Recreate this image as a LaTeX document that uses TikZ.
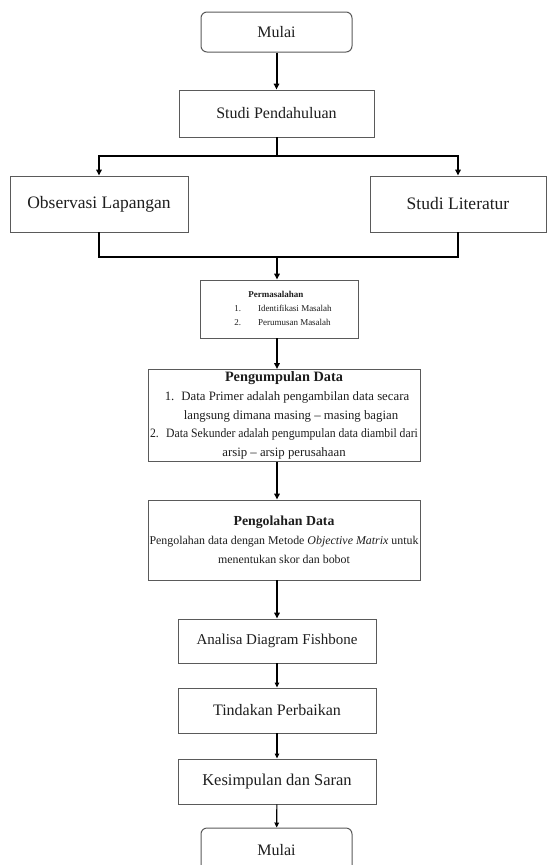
\documentclass[tikz,border=0pt]{standalone}
\usepackage{fontspec}
\setmainfont{Liberation Serif}
\usetikzlibrary{arrows.meta}
\definecolor{edge}{HTML}{5A5A5A}
\definecolor{ink}{HTML}{1E1E1E}
\begin{document}
\begin{tikzpicture}[x=1pt,y=-1pt,
  box/.style={draw=edge, line width=0.9pt, rectangle, inner sep=0pt, text=ink, font=\fontsize{16}{19}\selectfont},
  term/.style={box, rounded corners=6pt, line width=1pt},
  arr/.style={draw=black, line width=2pt, -{Triangle[length=6pt,width=5.5pt]}},
  arrthin/.style={draw=black, line width=1.1pt, -{Triangle[length=5pt,width=4.5pt]}},
  ln/.style={draw=black, line width=2pt}]
\useasboundingbox (0,0) rectangle (556,865);
\fill[white] (0,0) rectangle (556,865);

\node[term, minimum width=151pt, minimum height=40pt] (start) at (276.5,32) {Mulai};
\node[box, minimum width=195pt, minimum height=47pt] (studi) at (276.5,113.5) {Studi Pendahuluan};
\node[box, minimum width=178pt, minimum height=56pt, font=\fontsize{17.5}{20}\selectfont] (obs) at (99,204) {Observasi Lapangan};
\node[box, minimum width=176pt, minimum height=56pt, font=\fontsize{17.5}{20}\selectfont] (lit) at (458,204) {Studi Literatur};
\node[box, minimum width=158pt, minimum height=58pt, font=\fontsize{9}{14}\selectfont] (perm) at (279,309)
  {\hspace*{8pt}\begin{tabular}{@{}l@{\hspace{17pt}}l@{}}\multicolumn{2}{l}{\hspace{8pt}\textbf{Permasalahan}}\\ 1. & Identifikasi\ Masalah\\ 2. & Perumusan Masalah\end{tabular}};
\node[box, minimum width=272pt, minimum height=92pt, align=center, font=\fontsize{12.8}{18.6}\selectfont] (peng) at (284,415.5)
  {{\fontsize{14.3}{18.6}\selectfont\textbf{Pengumpulan\ Data}}\\ \hspace*{6pt}1.\hspace{7pt}Data Primer adalah pengambilan data secara\\ \hspace*{14pt}langsung dimana masing -- masing bagian\\ \scalebox{0.915}[1]{2.\hspace{8pt}Data Sekunder adalah pengumpulan data diambil dari}\\ arsip -- arsip perusahaan};
\node[box, minimum width=272pt, minimum height=80pt, align=center, font=\fontsize{11.9}{19}\selectfont] (olah) at (284,540)
  {{\fontsize{13.8}{19}\selectfont\textbf{Pengolahan Data}}\\ Pengolahan data dengan Metode \textit{Objective Matrix} untuk\\ menentukan skor dan bobot};
\node[box, minimum width=198pt, minimum height=44pt, font=\fontsize{15}{18}\selectfont] (ana) at (277,641) {Analisa Diagram Fishbone};
\node[box, minimum width=198pt, minimum height=45pt] (tind) at (277,710.5) {Tindakan Perbaikan};
\node[box, minimum width=198pt, minimum height=45pt, font=\fontsize{16.5}{19}\selectfont] (kes) at (277,781.5) {Kesimpulan\ dan Saran};
\node[term, minimum width=151pt, minimum height=44pt] (fin) at (276.5,850) {Mulai};

\coordinate (j1) at (276.5,156);
\coordinate (j2) at (277,257);

\draw[arr] (start) -- (studi);
\draw[ln] (studi.south) -- (j1);
\draw[arr] (j1) -| (obs.north);
\draw[arr] (j1) -| (lit.north);
\draw[ln] (obs.south) |- (j2);
\draw[ln] (lit.south) |- (j2);
\draw[arr] (j2) -- (j2 |- perm.north);
\draw[arr] (j2 |- perm.south) -- (j2 |- peng.north);
\draw[arr] (j2 |- peng.south) -- (j2 |- olah.north);
\draw[arr] (j2 |- olah.south) -- (ana.north);
\draw[arrthin] (ana) -- (tind);
\draw[arrthin] (tind) -- (kes);
\draw[arrthin] (kes) -- (fin);
\end{tikzpicture}
\end{document}
